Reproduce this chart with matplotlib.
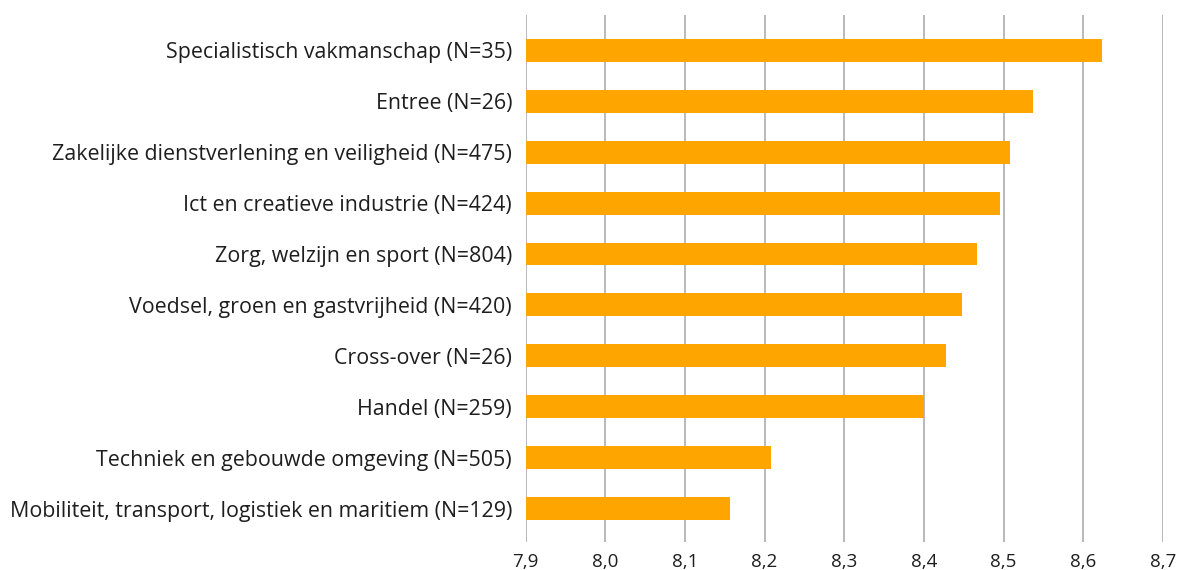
import matplotlib
matplotlib.use("Agg")
import matplotlib.pyplot as plt
from matplotlib.ticker import FuncFormatter

categories = [
    "Specialistisch vakmanschap (N=35)",
    "Entree (N=26)",
    "Zakelijke dienstverlening en veiligheid (N=475)",
    "Ict en creatieve industrie (N=424)",
    "Zorg, welzijn en sport (N=804)",
    "Voedsel, groen en gastvrijheid (N=420)",
    "Cross-over (N=26)",
    "Handel (N=259)",
    "Techniek en gebouwde omgeving (N=505)",
    "Mobiliteit, transport, logistiek en maritiem (N=129)",
]
values = [8.623, 8.537, 8.508, 8.496, 8.466, 8.448, 8.428, 8.400, 8.208, 8.157]
x_ticks = [7.9, 8.0, 8.1, 8.2, 8.3, 8.4, 8.5, 8.6, 8.7]

plt.rcParams['font.family'] = ['Open Sans', 'DejaVu Sans']
text_color = '#1e1e1e'

fig = plt.figure(figsize=(11.79, 5.70), dpi=100)
ax = fig.add_axes([525.5 / 1179, (570 - 542) / 570, (1163 - 525.5) / 1179, (542 - 15) / 570])

ypos = list(range(len(categories)))
x0 = x_ticks[0]
ax.barh(ypos, [v - x0 for v in values], left=x0, height=0.45, color='#FFA500', zorder=3)

ax.set_xlim(x_ticks[0], x_ticks[-1])
ax.set_ylim(9.658, -0.697)
ax.set_xticks(x_ticks)
ax.xaxis.set_major_formatter(FuncFormatter(lambda v, p: f"{v:.1f}".replace('.', ',')))
ax.set_yticks(ypos)
ax.set_yticklabels(categories)

ax.grid(axis='x', color='#b3b3b3', linewidth=1.3, zorder=0)
for s in ax.spines.values():
    s.set_visible(False)
ax.tick_params(axis='both', length=0, colors=text_color)
ax.tick_params(axis='y', pad=9.7, labelsize=15.4)
ax.tick_params(axis='x', pad=8, labelsize=13.5)

fig.savefig("out.png", dpi=100)
